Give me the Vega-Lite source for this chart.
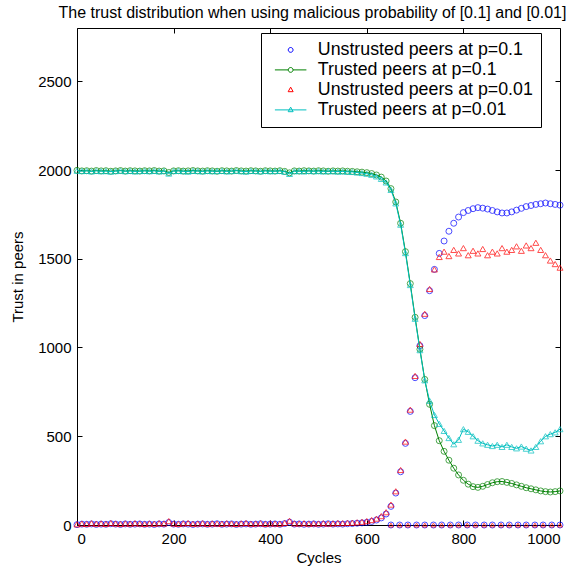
{
  "$schema": "https://vega.github.io/schema/vega-lite/v6.json",
  "width": 483,
  "height": 497,
  "autosize": "none",
  "padding": {"left": 77, "top": 28, "right": 26, "bottom": 50},
  "background": "white",
  "title": {"text": "The trust distribution when using malicious probability of [0.1] and [0.01]", "font": "Liberation Sans", "fontSize": 16, "fontWeight": "normal", "color": "black", "offset": 7, "anchor": "middle", "dx": -6},
  "config": {
    "view": {"stroke": null},
    "axis": {"grid": false, "domainColor": "black", "tickColor": "black", "labelColor": "black", "titleColor": "black", "labelFont": "Liberation Sans", "titleFont": "Liberation Sans", "labelFontSize": 15, "titleFontSize": 15, "titleFontWeight": "normal", "tickSize": -5, "labelPadding": 11, "domainWidth": 1, "tickWidth": 1, "format": "d"},
    "legend": {
      "orient": "none", "legendX": 184, "legendY": 5, "title": null, "fillColor": "white", "strokeColor": "black", "padding": 8,
      "labelFont": "Liberation Sans", "labelFontSize": 17.8, "labelColor": "black", "labelLimit": 400, "symbolSize": 100, "labelOffset": 31, "rowPadding": 1,
      "symbolStrokeWidth": 1, "symbolFillColor": "transparent"
    }
  },
  "params": [
    {"name": "lgshape", "value": {"Trusted peers at p=0.1": "M-0.6,0H2.07M3.03,0H5.7M2.07,0A0.48,0.48 0 1,0 3.03,0A0.48,0.48 0 1,0 2.07,0", "Trusted peers at p=0.01": "M-0.6,0H5.7M2.55,-0.55L3.05,0.36L2.05,0.36Z", "Unstrusted peers at p=0.01": "M2.55,-0.55L3.05,0.36L2.05,0.36Z", "Unstrusted peers at p=0.1": "M2.07,0A0.48,0.48 0 1,0 3.03,0A0.48,0.48 0 1,0 2.07,0"}}
  ],
  "datasets": {
    "main": [
      {"c":0,"u1":2,"t1":1998,"u2":4,"t2":1996},
      {"c":10,"u1":5,"t1":1995,"u2":8,"t2":1994},
      {"c":20,"u1":4,"t1":1996,"u2":6,"t2":1995},
      {"c":30,"u1":6,"t1":1994,"u2":10,"t2":1992},
      {"c":40,"u1":3,"t1":1997,"u2":7,"t2":1995},
      {"c":50,"u1":5,"t1":1995,"u2":9,"t2":1993},
      {"c":60,"u1":4,"t1":1996,"u2":6,"t2":1994},
      {"c":70,"u1":7,"t1":1993,"u2":11,"t2":1991},
      {"c":80,"u1":5,"t1":1995,"u2":8,"t2":1994},
      {"c":90,"u1":3,"t1":1997,"u2":6,"t2":1996},
      {"c":100,"u1":6,"t1":1994,"u2":9,"t2":1993},
      {"c":110,"u1":4,"t1":1996,"u2":7,"t2":1995},
      {"c":120,"u1":5,"t1":1995,"u2":10,"t2":1992},
      {"c":130,"u1":6,"t1":1994,"u2":8,"t2":1994},
      {"c":140,"u1":4,"t1":1996,"u2":6,"t2":1995},
      {"c":150,"u1":5,"t1":1995,"u2":9,"t2":1993},
      {"c":160,"u1":3,"t1":1997,"u2":7,"t2":1995},
      {"c":170,"u1":6,"t1":1994,"u2":10,"t2":1992},
      {"c":180,"u1":5,"t1":1995,"u2":8,"t2":1994},
      {"c":190,"u1":14,"t1":1986,"u2":22,"t2":1980},
      {"c":200,"u1":5,"t1":1995,"u2":8,"t2":1994},
      {"c":210,"u1":4,"t1":1996,"u2":6,"t2":1995},
      {"c":220,"u1":6,"t1":1994,"u2":9,"t2":1993},
      {"c":230,"u1":5,"t1":1995,"u2":11,"t2":1991},
      {"c":240,"u1":3,"t1":1997,"u2":7,"t2":1995},
      {"c":250,"u1":5,"t1":1995,"u2":8,"t2":1994},
      {"c":260,"u1":6,"t1":1994,"u2":10,"t2":1992},
      {"c":270,"u1":4,"t1":1996,"u2":6,"t2":1995},
      {"c":280,"u1":5,"t1":1995,"u2":9,"t2":1993},
      {"c":290,"u1":7,"t1":1993,"u2":8,"t2":1994},
      {"c":300,"u1":4,"t1":1996,"u2":7,"t2":1995},
      {"c":310,"u1":5,"t1":1995,"u2":10,"t2":1992},
      {"c":320,"u1":6,"t1":1994,"u2":8,"t2":1994},
      {"c":330,"u1":3,"t1":1997,"u2":6,"t2":1996},
      {"c":340,"u1":5,"t1":1995,"u2":9,"t2":1993},
      {"c":350,"u1":6,"t1":1994,"u2":11,"t2":1991},
      {"c":360,"u1":4,"t1":1996,"u2":7,"t2":1995},
      {"c":370,"u1":5,"t1":1995,"u2":8,"t2":1994},
      {"c":380,"u1":7,"t1":1993,"u2":10,"t2":1992},
      {"c":390,"u1":4,"t1":1996,"u2":6,"t2":1995},
      {"c":400,"u1":5,"t1":1995,"u2":9,"t2":1993},
      {"c":410,"u1":6,"t1":1994,"u2":8,"t2":1994},
      {"c":420,"u1":4,"t1":1996,"u2":7,"t2":1995},
      {"c":430,"u1":8,"t1":1992,"u2":12,"t2":1990},
      {"c":440,"u1":16,"t1":1984,"u2":24,"t2":1978},
      {"c":450,"u1":5,"t1":1995,"u2":9,"t2":1993},
      {"c":460,"u1":6,"t1":1994,"u2":8,"t2":1994},
      {"c":470,"u1":4,"t1":1996,"u2":10,"t2":1992},
      {"c":480,"u1":5,"t1":1995,"u2":7,"t2":1995},
      {"c":490,"u1":6,"t1":1994,"u2":9,"t2":1993},
      {"c":500,"u1":4,"t1":1996,"u2":8,"t2":1994},
      {"c":510,"u1":5,"t1":1995,"u2":10,"t2":1992},
      {"c":520,"u1":7,"t1":1993,"u2":8,"t2":1994},
      {"c":530,"u1":5,"t1":1995,"u2":9,"t2":1993},
      {"c":540,"u1":6,"t1":1994,"u2":11,"t2":1991},
      {"c":550,"u1":5,"t1":1995,"u2":10,"t2":1992},
      {"c":560,"u1":7,"t1":1993,"u2":12,"t2":1990},
      {"c":570,"u1":8,"t1":1992,"u2":13,"t2":1989},
      {"c":580,"u1":10,"t1":1990,"u2":15,"t2":1986},
      {"c":590,"u1":12,"t1":1988,"u2":18,"t2":1983},
      {"c":600,"u1":15,"t1":1985,"u2":22,"t2":1979},
      {"c":610,"u1":20,"t1":1980,"u2":28,"t2":1973},
      {"c":620,"u1":28,"t1":1972,"u2":36,"t2":1964},
      {"c":630,"u1":40,"t1":1960,"u2":50,"t2":1950},
      {"c":640,"u1":62,"t1":1938,"u2":72,"t2":1930},
      {"c":650,"u1":105,"t1":1895,"u2":115,"t2":1888},
      {"c":660,"u1":180,"t1":1820,"u2":190,"t2":1812},
      {"c":670,"u1":300,"t1":1700,"u2":310,"t2":1692},
      {"c":680,"u1":460,"t1":1540,"u2":470,"t2":1532},
      {"c":690,"u1":640,"t1":1360,"u2":650,"t2":1352},
      {"c":700,"u1":830,"t1":1170,"u2":840,"t2":1162},
      {"c":710,"u1":1010,"t1":990,"u2":1020,"t2":985},
      {"c":720,"u1":1180,"t1":820,"u2":1190,"t2":815},
      {"c":730,"u1":1320,"t1":680,"u2":1330,"t2":700},
      {"c":740,"u1":1440,"t1":560,"u2":1440,"t2":620},
      {"c":750,"u1":1530,"t1":475,"u2":1510,"t2":570},
      {"c":760,"u1":1600,"t1":415,"u2":1540,"t2":530},
      {"c":770,"u1":1655,"t1":365,"u2":1515,"t2":490},
      {"c":780,"u1":1700,"t1":320,"u2":1550,"t2":455},
      {"c":790,"u1":1735,"t1":282,"u2":1530,"t2":480},
      {"c":800,"u1":1760,"t1":252,"u2":1560,"t2":540},
      {"c":810,"u1":1772,"t1":230,"u2":1520,"t2":525},
      {"c":820,"u1":1782,"t1":216,"u2":1545,"t2":500},
      {"c":830,"u1":1788,"t1":212,"u2":1530,"t2":475},
      {"c":840,"u1":1785,"t1":218,"u2":1555,"t2":460},
      {"c":850,"u1":1780,"t1":228,"u2":1520,"t2":452},
      {"c":860,"u1":1772,"t1":238,"u2":1540,"t2":445},
      {"c":870,"u1":1764,"t1":244,"u2":1530,"t2":452},
      {"c":880,"u1":1758,"t1":245,"u2":1560,"t2":440},
      {"c":890,"u1":1758,"t1":240,"u2":1540,"t2":452},
      {"c":900,"u1":1764,"t1":234,"u2":1550,"t2":440},
      {"c":910,"u1":1774,"t1":226,"u2":1570,"t2":432},
      {"c":920,"u1":1784,"t1":218,"u2":1545,"t2":442},
      {"c":930,"u1":1794,"t1":210,"u2":1575,"t2":430},
      {"c":940,"u1":1800,"t1":204,"u2":1560,"t2":420},
      {"c":950,"u1":1806,"t1":198,"u2":1590,"t2":440},
      {"c":960,"u1":1810,"t1":192,"u2":1550,"t2":472},
      {"c":970,"u1":1814,"t1":188,"u2":1520,"t2":500},
      {"c":980,"u1":1810,"t1":186,"u2":1490,"t2":512},
      {"c":990,"u1":1806,"t1":188,"u2":1470,"t2":522},
      {"c":1000,"u1":1802,"t1":192,"u2":1450,"t2":540}
    ],
    "zeros": [
      {"c":650,"v":0},{"c":668,"v":0},{"c":685,"v":0},{"c":703,"v":0},{"c":720,"v":0},{"c":738,"v":0},{"c":755,"v":0},
      {"c":773,"v":0},{"c":790,"v":0},{"c":808,"v":0},{"c":825,"v":0},{"c":843,"v":0},{"c":860,"v":0},{"c":878,"v":0},
      {"c":895,"v":0},{"c":913,"v":0},{"c":930,"v":0},{"c":948,"v":0},{"c":965,"v":0},{"c":983,"v":0},{"c":1000,"v":0}
    ]
  },
  "data": {"name": "main"},
  "layer": [
    {
      "mark": {"type": "point", "shape": "circle", "filled": false, "size": 36, "strokeWidth": 1, "clip": false},
      "encoding": {
        "x": {"field": "c", "type": "quantitative", "scale": {"domain": [0, 1000], "nice": false, "zero": false}, "axis": {"orient": "bottom", "title": "Cycles", "values": [0, 200, 400, 600, 800, 1000], "titlePadding": 4}},
        "y": {"field": "u1", "type": "quantitative", "scale": {"domain": [0, 2800], "nice": false}, "axis": {"orient": "left", "title": "Trust in peers", "values": [0, 500, 1000, 1500, 2000, 2500], "titlePadding": 12}},
        "color": {
          "datum": "Unstrusted peers at p=0.1", "type": "nominal",
          "scale": {"domain": ["Unstrusted peers at p=0.1", "Trusted peers at p=0.1", "Unstrusted peers at p=0.01", "Trusted peers at p=0.01"], "range": ["#0000ff", "#008000", "#ff0000", "#00bfbf"]},
          "legend": {"encode": {"symbols": {"update": {"shape": {"signal": "lgshape[datum.value]"}, "stroke": {"scale": "color", "field": "value"}, "fill": {"value": "transparent"}, "strokeWidth": {"value": 1}, "opacity": {"value": 1}}}}}
        }
      }
    },
    {
      "data": {"name": "zeros"},
      "mark": {"type": "point", "shape": "circle", "filled": false, "size": 36, "strokeWidth": 1, "clip": false},
      "encoding": {
        "x": {"field": "c", "type": "quantitative", "axis": null},
        "y": {"field": "v", "type": "quantitative", "axis": null},
        "color": {"datum": "Unstrusted peers at p=0.1", "type": "nominal", "legend": {"encode": {"symbols": {"update": {"shape": {"signal": "lgshape[datum.value]"}, "stroke": {"scale": "color", "field": "value"}, "fill": {"value": "transparent"}, "strokeWidth": {"value": 1}, "opacity": {"value": 1}}}}}}
      }
    },
    {
      "mark": {"type": "line", "strokeWidth": 1},
      "encoding": {
        "x": {"field": "c", "type": "quantitative", "axis": null},
        "y": {"field": "t1", "type": "quantitative", "axis": null},
        "color": {"datum": "Trusted peers at p=0.1", "type": "nominal", "legend": {"encode": {"symbols": {"update": {"shape": {"signal": "lgshape[datum.value]"}, "stroke": {"scale": "color", "field": "value"}, "fill": {"value": "transparent"}, "strokeWidth": {"value": 1}, "opacity": {"value": 1}}}}}}
      }
    },
    {
      "mark": {"type": "point", "shape": "circle", "filled": false, "size": 36, "strokeWidth": 1, "clip": false},
      "encoding": {
        "x": {"field": "c", "type": "quantitative", "axis": null},
        "y": {"field": "t1", "type": "quantitative", "axis": null},
        "color": {"datum": "Trusted peers at p=0.1", "type": "nominal", "legend": {"encode": {"symbols": {"update": {"shape": {"signal": "lgshape[datum.value]"}, "stroke": {"scale": "color", "field": "value"}, "fill": {"value": "transparent"}, "strokeWidth": {"value": 1}, "opacity": {"value": 1}}}}}}
      }
    },
    {
      "mark": {"type": "point", "shape": "triangle-up", "filled": false, "size": 36, "strokeWidth": 1, "clip": false},
      "encoding": {
        "x": {"field": "c", "type": "quantitative", "axis": null},
        "y": {"field": "u2", "type": "quantitative", "axis": null},
        "color": {"datum": "Unstrusted peers at p=0.01", "type": "nominal", "legend": {"encode": {"symbols": {"update": {"shape": {"signal": "lgshape[datum.value]"}, "stroke": {"scale": "color", "field": "value"}, "fill": {"value": "transparent"}, "strokeWidth": {"value": 1}, "opacity": {"value": 1}}}}}}
      }
    },
    {
      "data": {"name": "zeros"},
      "mark": {"type": "point", "shape": "triangle-up", "filled": false, "size": 20, "strokeWidth": 1, "clip": false},
      "encoding": {
        "x": {"field": "c", "type": "quantitative", "axis": null},
        "y": {"field": "v", "type": "quantitative", "axis": null},
        "color": {"datum": "Unstrusted peers at p=0.01", "type": "nominal", "legend": {"encode": {"symbols": {"update": {"shape": {"signal": "lgshape[datum.value]"}, "stroke": {"scale": "color", "field": "value"}, "fill": {"value": "transparent"}, "strokeWidth": {"value": 1}, "opacity": {"value": 1}}}}}}
      }
    },
    {
      "mark": {"type": "line", "strokeWidth": 1},
      "encoding": {
        "x": {"field": "c", "type": "quantitative", "axis": null},
        "y": {"field": "t2", "type": "quantitative", "axis": null},
        "color": {"datum": "Trusted peers at p=0.01", "type": "nominal", "legend": {"encode": {"symbols": {"update": {"shape": {"signal": "lgshape[datum.value]"}, "stroke": {"scale": "color", "field": "value"}, "fill": {"value": "transparent"}, "strokeWidth": {"value": 1}, "opacity": {"value": 1}}}}}}
      }
    },
    {
      "mark": {"type": "point", "shape": "triangle-up", "filled": false, "size": 36, "strokeWidth": 1, "clip": false},
      "encoding": {
        "x": {"field": "c", "type": "quantitative", "axis": null},
        "y": {"field": "t2", "type": "quantitative", "axis": null},
        "color": {"datum": "Trusted peers at p=0.01", "type": "nominal", "legend": {"encode": {"symbols": {"update": {"shape": {"signal": "lgshape[datum.value]"}, "stroke": {"scale": "color", "field": "value"}, "fill": {"value": "transparent"}, "strokeWidth": {"value": 1}, "opacity": {"value": 1}}}}}}
      }
    },
    {
      "mark": {"type": "point", "opacity": 0},
      "encoding": {
        "x": {"field": "c", "type": "quantitative", "axis": {"orient": "top", "title": null, "labels": false, "values": [0, 200, 400, 600, 800, 1000]}},
        "y": {"field": "t1", "type": "quantitative", "axis": {"orient": "right", "title": null, "labels": false, "values": [0, 500, 1000, 1500, 2000, 2500]}}
      }
    }
  ],
  "resolve": {"axis": {"x": "independent", "y": "independent"}}
}
